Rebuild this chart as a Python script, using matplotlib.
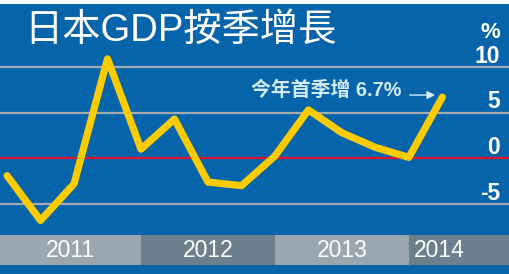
import matplotlib.pyplot as plt
from matplotlib.transforms import blended_transform_factory

# ── Data: Japan GDP quarter-on-quarter (annualised), 2010Q4 – 2014Q1 ──
quarters = ['10Q4', '11Q1', '11Q2', '11Q3', '11Q4', '12Q1', '12Q2',
            '12Q3', '12Q4', '13Q1', '13Q2', '13Q3', '13Q4', '14Q1']
growth = [-1.9, -6.8, -2.8, 10.9, 1.0, 4.3, -2.6,
          -3.0, 0.25, 5.3, 2.8, 1.2, 0.1, 6.7]
years = ['2011', '2012', '2013', '2014']
year_start = [-0.21, 4, 8, 12]
year_end = [4, 8, 12, 15.02]
year_label_x = [1.9, 6, 10, 12.9]
yticks = [10, 5, 0, -5]

BLUE = '#0664aa'
YELLOW = '#fccb00'
GRID = '#a3abb3'
RED = '#e3132b'
BAND = ['#9ba7b0', '#6c7f8d']
MIXED = ['Liberation Sans', 'Noto Sans CJK TC']

fig = plt.figure(figsize=(5.1, 2.74), dpi=100, facecolor='white')
ax = fig.add_axes([0, 0, 1, 270 / 274])
ax.set_facecolor(BLUE)
ax.set_xlim(-0.21, 15.02)
ax.set_ylim(-12.67, 16.90)
for s in ax.spines.values():
    s.set_visible(False)
ax.set_xticks([])
ax.set_yticks([])

# grid lines + zero line
for v in yticks:
    if v == 0:
        ax.axhline(v, color=RED, lw=1.6, zorder=2)
    else:
        ax.axhline(v, color=GRID, lw=1.6, zorder=1)

# year band
for i, (a, b) in enumerate(zip(year_start, year_end)):
    ax.axvspan(a, b, ymin=9 / 270, ymax=39 / 270, color=BAND[i % 2], lw=0, zorder=1)
    ax.text(year_label_x[i], -10.05, years[i], color='white', fontsize=16.5,
            family='Liberation Sans', ha='center', va='center', zorder=3)

# main line
ax.plot(range(len(growth)), growth, color=YELLOW, lw=5.2,
        solid_capstyle='round', solid_joinstyle='round', zorder=4)

# y labels on the right
tr = blended_transform_factory(ax.transAxes, ax.transData)
for v in yticks:
    ax.text(500 / 510, v + 1.2, f'{v}', transform=tr, color='white',
            fontsize=16.5, fontweight='bold', family='Liberation Sans',
            ha='right', va='center', zorder=5)
ax.text(500 / 510, 13.8, '%', transform=tr, color='white', fontsize=16,
        fontweight='bold', family='Liberation Sans', ha='right', va='center')

# title
fig.text(24 / 510, 1 - 31 / 274, '日本GDP按季增長', color='white', fontsize=27.5,
         family=MIXED, ha='left', va='center')

# annotation
ax.text(11.79, 7.48, '今年首季增 6.7%', color='#d3ebfa', fontsize=14.3,
        fontweight='bold', family=MIXED, ha='right', va='center', zorder=5)
ax.annotate('', xy=(12.87, 6.93), xytext=(11.94, 6.93),
            arrowprops=dict(arrowstyle='-|>', color='#d3ebfa', lw=1.0,
                            mutation_scale=12), zorder=5)

fig.savefig('out.png', dpi=100, facecolor='white')
